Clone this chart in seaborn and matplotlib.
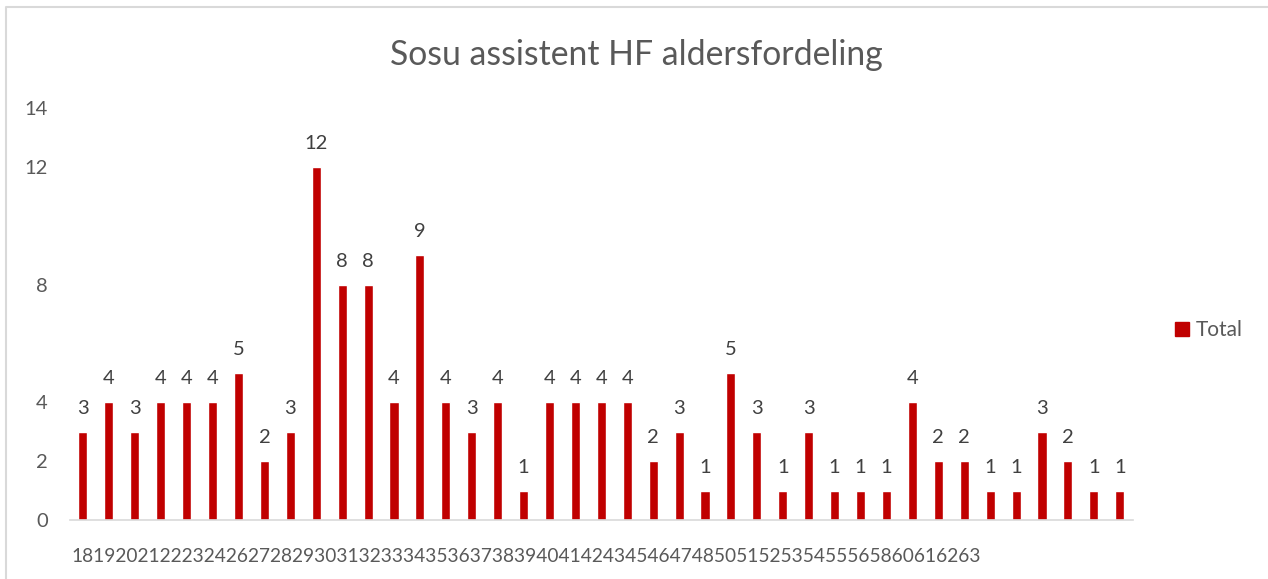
import matplotlib
matplotlib.use("Agg")
import matplotlib.pyplot as plt
from matplotlib.lines import Line2D
import seaborn as sns
import pandas as pd

ages = ["18", "19", "20", "21", "22", "23", "24", "26", "27", "28", "29", "30", "31",
        "32", "33", "34", "35", "36", "37", "38", "39", "40", "41", "42", "43", "45",
        "46", "47", "48", "50", "51", "52", "53", "54", "55", "56", "58", "60", "61",
        "62", "63"]
counts = [3, 4, 3, 4, 4, 4, 5, 2, 3, 12, 8, 8, 4, 9, 4, 3, 4, 1, 4, 4, 4, 4, 2, 3,
          1, 5, 3, 1, 3, 1, 1, 1, 4, 2, 2, 1, 1, 3, 2, 1, 1]
y_ticks = [0, 2, 4, 8, 12, 14]
title = "Sosu assistent HF aldersfordeling"
series_name = "Total"

BAR = "#C00000"
AXIS_GREY = "#D9D9D9"
TEXT_GREY = "#595959"
LABEL_GREY = "#404040"

sns.set_style("white")
plt.rcParams["font.family"] = ["Lato", "DejaVu Sans"]

W, H = 1268, 579
fig = plt.figure(figsize=(W / 100, H / 100), dpi=100)
ax = fig.add_axes([70 / W, (H - 520) / H, (1132.7 - 70) / W, (520 - 108) / H])

df = pd.DataFrame({"age": ages, "count": counts})
sns.barplot(data=df, x="age", y="count", color=BAR, saturation=1, width=0.35, ax=ax)

ax.set_xlim(-0.5, len(ages) - 0.5)
ax.set_ylim(0, 14)
ax.set_yticks(y_ticks)
ax.set_yticklabels([str(t) for t in y_ticks])
ax.tick_params(axis="y", length=0, pad=16, labelsize=14.5, labelcolor=TEXT_GREY)
ax.set_xticks([])
ax.set_xlabel("")
ax.set_ylabel("")
for side in ("top", "right", "left"):
    ax.spines[side].set_visible(False)
ax.spines["bottom"].set_color(AXIS_GREY)
ax.spines["bottom"].set_linewidth(1.2)

# value labels above each bar
for i, v in enumerate(counts):
    ax.annotate(str(v), (i, v), xytext=(0, 13), textcoords="offset points",
                ha="center", va="baseline", fontsize=14.5, color=LABEL_GREY)

# category labels run together as one line under the axis
fig.text(71.7 / W, (H - 561.7) / H, "".join(ages), ha="left", va="baseline",
         fontsize=13.8, color=TEXT_GREY)

fig.text(636 / W, (H - 65) / H, title, ha="center", va="baseline",
         fontsize=24.3, color=TEXT_GREY)

handle = plt.Rectangle((0, 0), 1, 1, color=BAR)
fig.legend([handle], [series_name], loc="center left",
           bbox_to_anchor=(1175 / W, (H - 330) / H), frameon=False,
           handlelength=0.65, handleheight=0.65, borderpad=0, borderaxespad=0,
           handletextpad=0.35, fontsize=15, labelcolor=TEXT_GREY)

# chart border (top and left edges)
bx, by = 6 / W, (H - 6.5) / H
fig.add_artist(Line2D([bx, bx, 1], [0, by, by], transform=fig.transFigure,
                      color=AXIS_GREY, linewidth=1.5))

fig.savefig("out.png", dpi=100)
